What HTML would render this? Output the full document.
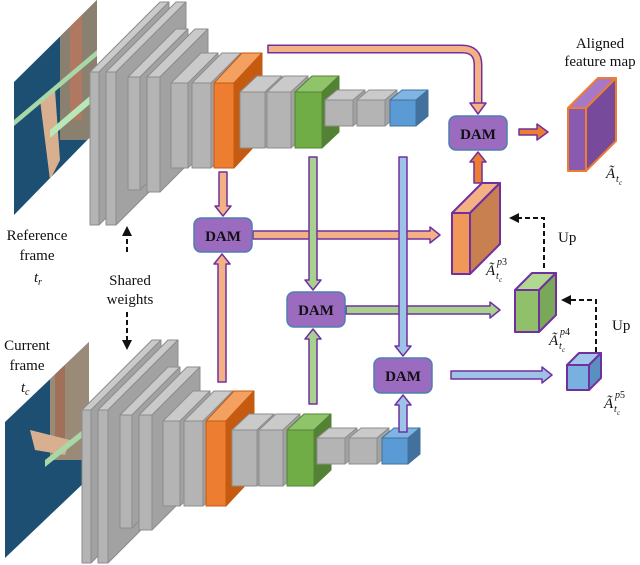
<!DOCTYPE html>
<html><head><meta charset="utf-8">
<style>
html,body{margin:0;padding:0;background:#fff;}
svg{display:block;}
text{font-family:"Liberation Serif",serif;fill:#111;}
.dam{font-weight:bold;font-size:15px;}
.lbl{font-size:15px;}
.it{font-style:italic;}
.sm{font-size:10px;font-style:italic;}
.xs{font-size:7px;font-style:italic;}
</style></head>
<body>
<svg id="s" width="640" height="565" viewBox="0 0 640 565" xmlns="http://www.w3.org/2000/svg">
<defs>
<clipPath id="c1"><polygon points="14,82 97,0 97,130 14,215"/></clipPath>
<clipPath id="c2"><polygon points="5,422 89,342 89,478 5,558"/></clipPath>
</defs>
<g clip-path="url(#c1)">
<rect x="0" y="0" width="100" height="220" fill="#1d4f73"/>
<rect x="60" y="0" width="40" height="140" fill="#8a8070"/>
<rect x="70" y="0" width="12" height="120" fill="#b07860"/>
<polygon points="40,100 55,90 60,160 50,180" fill="#d8b090"/>
<polygon points="14,120 97,50 97,56 14,126" fill="#a8d8a8"/>
<polygon points="50,130 97,90 97,98 50,138" fill="#b8e8b8"/>
</g>
<g clip-path="url(#c2)">
<rect x="0" y="340" width="100" height="220" fill="#1d4f73"/>
<rect x="50" y="340" width="40" height="120" fill="#9a8a78"/>
<rect x="55" y="340" width="10" height="110" fill="#a07058"/>
<polygon points="30,430 70,440 65,455 35,450" fill="#d8b090"/>
<polygon points="45,460 89,425 89,432 45,467" fill="#a8d8a8"/>
<polygon points="50,515 89,480 89,488 50,523" fill="#b8e8b8"/>
</g>
<g id="enc"></g>
<g id="arr"></g>
<g fill="#9b6bbf" stroke="#4f7fb0" stroke-width="1.5">
<rect x="194" y="218" width="58" height="34" rx="7"/>
<rect x="287" y="292" width="58" height="35" rx="7"/>
<rect x="374" y="358" width="58" height="35" rx="7"/>
<rect x="449" y="116" width="58" height="34" rx="7"/>
</g>
<text class="dam" x="223" y="241" text-anchor="middle">DAM</text>
<text class="dam" x="316" y="315" text-anchor="middle">DAM</text>
<text class="dam" x="403" y="381" text-anchor="middle">DAM</text>
<text class="dam" x="478" y="139" text-anchor="middle">DAM</text>
<text class="lbl" x="37" y="240" text-anchor="middle">Reference</text>
<text class="lbl" x="37" y="260" text-anchor="middle">frame</text>
<text class="lbl it" x="34" y="282">t</text><text class="sm" x="38" y="285">r</text>
<text class="lbl" x="130" y="285" text-anchor="middle">Shared</text>
<text class="lbl" x="130" y="304" text-anchor="middle">weights</text>
<text class="lbl" x="27" y="350" text-anchor="middle">Current</text>
<text class="lbl" x="27" y="370" text-anchor="middle">frame</text>
<text class="lbl it" x="21" y="392">t</text><text class="sm" x="25" y="395">c</text>
<text class="lbl" x="600" y="48" text-anchor="middle">Aligned</text>
<text class="lbl" x="600" y="66" text-anchor="middle">feature map</text>
<text class="lbl" x="558" y="242">Up</text>
<text class="lbl" x="612" y="330">Up</text>
<text class="lbl it" x="606" y="178">Ã</text><text class="sm" x="616" y="182">t</text><text class="xs" x="619" y="185">c</text>
<text class="lbl it" x="486" y="275">Ã</text><text class="sm" x="496" y="279">t</text><text class="xs" x="499" y="282">c</text><text class="sm" x="497" y="265">p<tspan font-style="normal">3</tspan></text>
<text class="lbl it" x="549" y="345">Ã</text><text class="sm" x="559" y="349">t</text><text class="xs" x="562" y="352">c</text><text class="sm" x="560" y="335">p<tspan font-style="normal">4</tspan></text>
<text class="lbl it" x="604" y="408">Ã</text><text class="sm" x="614" y="412">t</text><text class="xs" x="617" y="415">c</text><text class="sm" x="615" y="398">p<tspan font-style="normal">5</tspan></text>
<g stroke="#111" stroke-width="2" stroke-dasharray="5,3" fill="none">
<line x1="127" y1="252" x2="127" y2="234"/>
<line x1="127" y1="312" x2="127" y2="342"/>
<polyline points="544,268 544,218 518,218"/>
<polyline points="596,352 596,300 570,300"/>
</g>
<g fill="#111">
<polygon points="122,236 132,236 127,226"/>
<polygon points="122,340 132,340 127,350"/>
<polygon points="519,213 519,223 509,218"/>
<polygon points="571,295 571,305 561,300"/>
</g>
<script>
(function(){
var NS="http://www.w3.org/2000/svg";
function poly(g,pts,fill,stroke,sw){var p=document.createElementNS(NS,"polygon");p.setAttribute("points",pts.map(function(a){return a.join(",")}).join(" "));p.setAttribute("fill",fill);p.setAttribute("stroke",stroke);p.setAttribute("stroke-width",sw||1);p.setAttribute("stroke-linejoin","round");g.appendChild(p);}
var C={g:["#b4b4b4","#cacaca","#a2a2a2","#8c8c8c"],o:["#ed7d31","#f4a060","#c55a11","#c55a11"],n:["#70ad47","#90c46a","#548235","#548235"],b:["#5b9bd5","#80b4e2","#41719c","#41719c"],
op:["#f0985a","#f4b183","#c98050","#7030a0"],np:["#90c06a","#b0d890","#78a858","#7030a0"],bp:["#78b0e0","#a0c8ec","#5a90c0","#7030a0"],pp:["#8a5ab0","#a678c8","#784a9c","#ed7d31"]};
function slab(g,x,y,w,h,dx,dy,c,sw){var k=C[c];
poly(g,[[x,y],[x+dx,y+dy],[x+w+dx,y+dy],[x+w,y]],k[1],k[3],sw);
poly(g,[[x+w,y],[x+w+dx,y+dy],[x+w+dx,y+h+dy],[x+w,y+h]],k[2],k[3],sw);
poly(g,[[x,y],[x+w,y],[x+w,y+h],[x,y+h]],k[0],k[3],sw);}
var L=[[90,72,9,153,70,-70,"g"],[106,72,10,153,70,-70,"g"],[128,77,12,113,48,-48,"g"],[147,77,13,115,48,-48,"g"],[171,83,17,85,30,-30,"g"],[192,83,19,85,30,-30,"g"],[214,83,20,85,28,-30,"o"],[240,92,25,56,17,-16,"g"],[267,92,24,56,17,-16,"g"],[295,92,27,56,17,-16,"n"],[325,100,28,26,12,-10,"g"],[357,100,28,26,12,-10,"g"],[390,100,26,26,12,-10,"b"]];
var e=document.getElementById("enc");
var g1=document.createElementNS(NS,"g");e.appendChild(g1);
var g2=document.createElementNS(NS,"g");g2.setAttribute("transform","translate(-8,338)");e.appendChild(g2);
L.forEach(function(s){slab(g1,s[0],s[1],s[2],s[3],s[4],s[5],s[6]);slab(g2,s[0],s[1],s[2],s[3],s[4],s[5],s[6]);});
slab(e,568,108,18,63,30,-30,"pp",2);
slab(e,452,213,18,61,30,-30,"op",2);
slab(e,515,290,24,42,17,-17,"np",2);
slab(e,567,365,22,25,12,-12,"bp",2);
var a=document.getElementById("arr");
var FC={o:"#f4b183",n:"#a9d18e",b:"#9dc3e6",O:"#ed7d31"};
function varr(x,y1,y2,c){var s=y2>y1?1:-1,hw=4,H=8,hl=10;
poly(a,[[x-hw,y1],[x-hw,y2-s*hl],[x-H,y2-s*hl],[x,y2],[x+H,y2-s*hl],[x+hw,y2-s*hl],[x+hw,y1]],FC[c],"#7030a0",1.5);}
function harr(y,x1,x2,c){var hw=4,H=8,hl=10;
poly(a,[[x1,y-hw],[x2-hl,y-hw],[x2-hl,y-H],[x2,y],[x2-hl,y+H],[x2-hl,y+hw],[x1,y+hw]],FC[c],"#7030a0",1.5);}
harr(235,253,440,"o");
harr(310,346,500,"n");
harr(375,451,552,"b");
varr(313,157,290,"n");
varr(403,157,356,"b");
varr(223,172,216,"o");
varr(222,382,254,"o");
varr(313,404,329,"n");
varr(403,432,395,"b");
varr(478,183,152,"O");
poly(a,[[519,129],[537,129],[537,124],[548,132],[537,140],[537,135],[519,135]],"#ed7d31","#7030a0",1.5);
var p=document.createElementNS(NS,"path");p.setAttribute("d","M268,49 L462,49 Q478,49 478,65 L478,104");p.setAttribute("fill","none");p.setAttribute("stroke","#7030a0");p.setAttribute("stroke-width","9");a.appendChild(p);
var q=p.cloneNode();q.setAttribute("stroke","#f4b183");q.setAttribute("stroke-width","6");a.appendChild(q);
poly(a,[[470,103],[486,103],[478,114]],"#f4b183","#7030a0",1.5);
var cap=document.createElementNS(NS,"line");cap.setAttribute("x1",268);cap.setAttribute("y1",44.5);cap.setAttribute("x2",268);cap.setAttribute("y2",53.5);cap.setAttribute("stroke","#7030a0");cap.setAttribute("stroke-width",1.5);a.appendChild(cap);
})();
</script>
</svg>
</body></html>
